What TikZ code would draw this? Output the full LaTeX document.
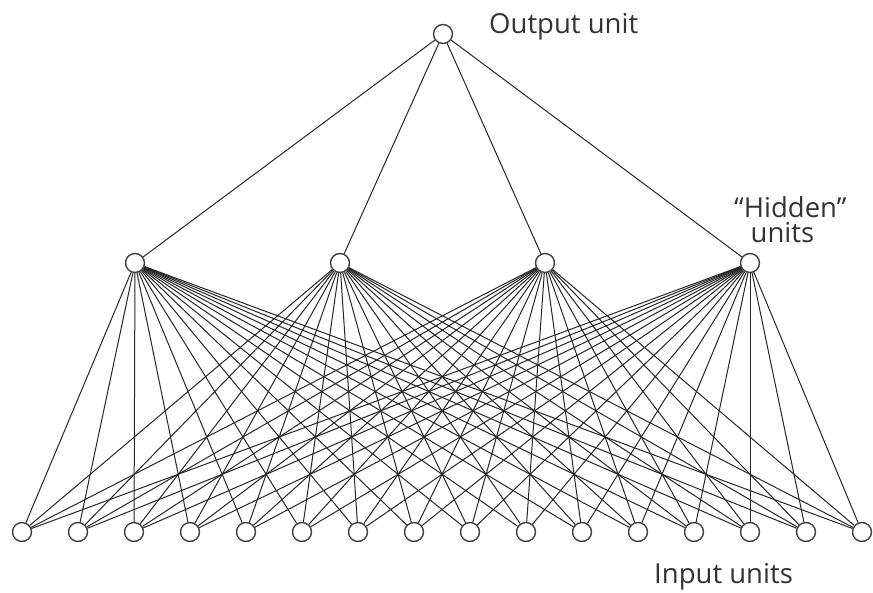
\documentclass[tikz,border=0pt]{standalone}
\usepackage{fontspec}
\setmainfont{Open Sans}
\usepackage{tikz}
\usetikzlibrary{positioning}

\begin{document}
\begin{tikzpicture}[
  x=1pt, y=-1pt,
  unit/.style={draw=black!75, circle, fill=white, line width=1.4pt, inner sep=0pt, minimum size=19pt},
  wire/.style={line width=1pt, black!85},
  lbl/.style={font=\fontsize{27.5}{25}\selectfont, text=black!80, align=left}
]
  \useasboundingbox (0,0) rectangle (873,592);

  % units
  \node[unit] (out) at (443,34) {};
  \foreach \i/\x in {1/135, 2/340, 3/545, 4/750}
    \node[unit] (h\i) at (\x,263) {};
  \foreach \j in {1,...,16}
    \node[unit] (in\j) at ({22+56*(\j-1)},532) {};

  % connections
  \foreach \i in {1,...,4} {
    \draw[wire] (out) -- (h\i);
    \foreach \j in {1,...,16}
      \draw[wire] (h\i) -- (in\j);
  }

  % labels
  \node[lbl, anchor=west, inner sep=0pt] (outlbl) at (489,27) {Output unit};
  \node[lbl, anchor=north west, inner sep=0pt] (hidlbl) at (734,196) {``Hidden''\\\hspace*{0.6em}units};
  \node[lbl, anchor=west, inner sep=0pt] (inlbl) at (654,577) {Input units};
\end{tikzpicture}
\end{document}
